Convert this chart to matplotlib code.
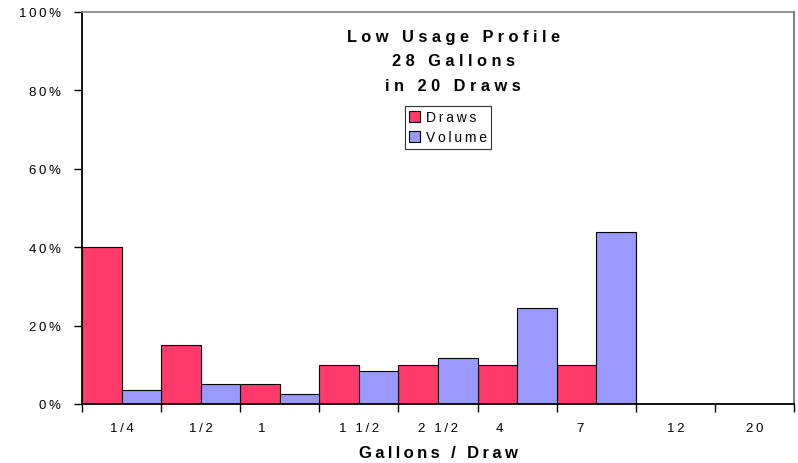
# Low usage profile - draws vs volume by draw size
import matplotlib.pyplot as plt
import numpy as np

plt.rcParams['font.family'] = ['Liberation Sans', 'DejaVu Sans']

sizes = ['1/4', '1/2', '1', '1 1/2', '2 1/2', '4', '7', '12', '20']
draws = [40, 15, 5, 10, 10, 10, 10, 0, 0]
volume = [3.5, 5, 2.5, 8.5, 11.8, 24.6, 44, 0, 0]
title_lines = ['Low Usage Profile', '28 Gallons', 'in 20 Draws']


def spaced(s, gap='\u2009'):
    # wide letter spacing like the old spreadsheet chart
    return gap.join(s)


fig = plt.figure(figsize=(7.98, 4.64), dpi=100)
ax = fig.add_axes([0.1028, 0.1272, 0.8922, 0.8448])

x = np.arange(len(sizes))
w = 0.5
ax.bar(x - w / 2, draws, width=w, color='#FF3B6B', edgecolor='black', linewidth=0.8, label=spaced('Draws'))
ax.bar(x + w / 2, volume, width=w, color='#9999FF', edgecolor='black', linewidth=0.8, label=spaced('Volume'))

ax.set_xlim(-0.5, len(sizes) - 0.5)
ax.set_ylim(0, 100)

ax.set_yticks([0, 20, 40, 60, 80, 100])
ax.set_yticklabels([spaced('%d%%' % v) for v in [0, 20, 40, 60, 80, 100]], fontsize=9.5)

# tick marks on category boundaries, labels in the middle
ax.set_xticks(np.arange(len(sizes) + 1) - 0.5)
ax.set_xticklabels([])
offs = {'1': -0.23, '4': -0.22, '7': -0.2}
for i, s in enumerate(sizes):
    ax.text(i + offs.get(s, 0), -4.5, spaced(s), ha='center', va='top', fontsize=9.5)

ax.tick_params(axis='both', direction='out', length=6, width=1, colors='black')
ax.tick_params(axis='y', pad=9)

ax.spines['left'].set_linewidth(1.3)
ax.spines['bottom'].set_linewidth(1.3)
ax.spines['top'].set_color('#808080')
ax.spines['right'].set_color('#808080')
ax.spines['top'].set_linewidth(1.2)
ax.spines['right'].set_linewidth(1.5)

for yy, line in zip([41.7, 66.5, 91.2], title_lines):
    fig.text(453 / 798, 1 - yy / 464, spaced(line, ' '), ha='center', va='baseline',
             fontsize=11.8, fontweight='bold')

ax.set_xlabel(spaced('Gallons / Draw'), fontsize=12, fontweight='bold', labelpad=20)

leg = ax.legend(loc='upper left', bbox_to_anchor=(405 / 798, 1 - 107 / 464), bbox_transform=fig.transFigure,
                fontsize=10, frameon=True, fancybox=False,
                handlelength=0.8, handleheight=0.8, handletextpad=0.4, borderpad=0.3, labelspacing=0.45,
                borderaxespad=0)
leg.get_frame().set_edgecolor('black')
leg.get_frame().set_linewidth(0.8)

plt.savefig('out.png', dpi=100)
